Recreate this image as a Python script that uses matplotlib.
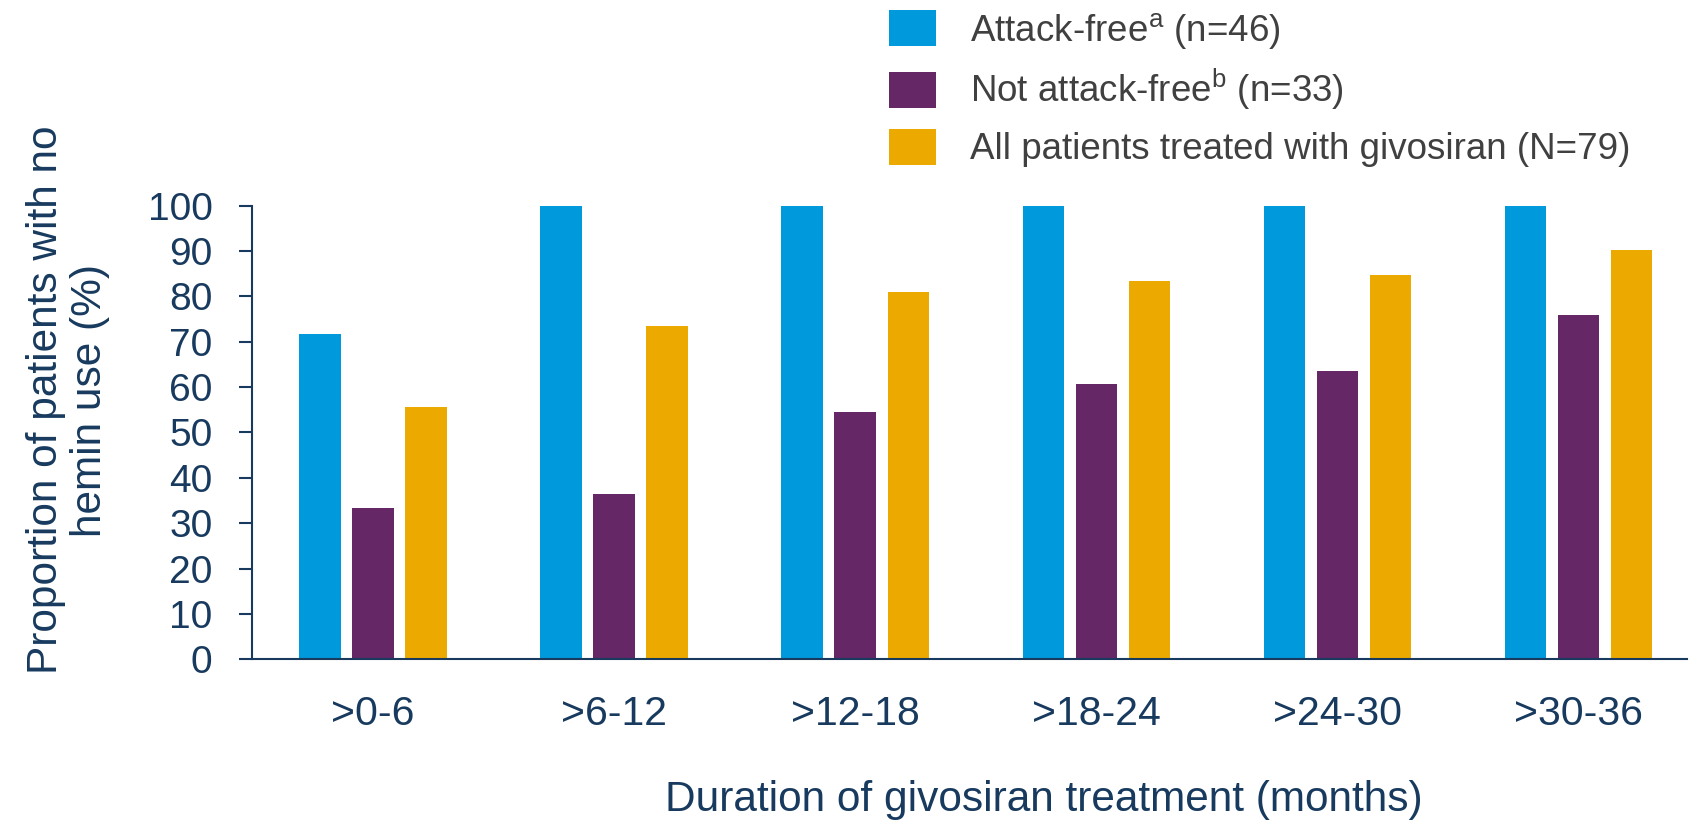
import numpy as np
import matplotlib
matplotlib.use('Agg')
import matplotlib.pyplot as plt
from matplotlib.patches import Patch

plt.rcParams['font.family'] = ['Liberation Sans', 'DejaVu Sans']
plt.rcParams['mathtext.fontset'] = 'custom'
plt.rcParams['mathtext.rm'] = 'Liberation Sans'
plt.rcParams['mathtext.it'] = 'Liberation Sans'

# 数据
categories = ['>0-6', '>6-12', '>12-18', '>18-24', '>24-30', '>30-36']
attack_free = [71.7, 100, 100, 100, 100, 100]
not_attack_free = [33.3, 36.4, 54.5, 60.6, 63.6, 75.8]
all_patients = [55.7, 73.4, 81.0, 83.5, 84.8, 90.2]
series_labels = ['Attack-free$^{\\mathrm{a}}$ (n=46)',
                 'Not attack-free$^{\\mathrm{b}}$ (n=33)',
                 'All patients treated with givosiran (N=79)']
colors = ['#0099DB', '#662766', '#ECAA00']
navy = '#173A5E'

fig = plt.figure(figsize=(16.9, 8.22), dpi=100)
ax = fig.add_axes([252 / 1690, 1 - 659.3 / 822, 1435 / 1690, 453.6 / 822])

x = np.arange(len(categories))
w = 0.172
step = 0.22
for i, (vals, c) in enumerate(zip([attack_free, not_attack_free, all_patients], colors)):
    ax.bar(x + (i - 1) * step, vals, width=w, color=c, linewidth=0)

ax.set_xlim(-0.502, 5.45)
ax.set_ylim(0, 100)
ax.set_yticks(np.arange(0, 101, 10))
ax.set_xticks(x)
ax.set_xticklabels(categories)

for s in ['top', 'right']:
    ax.spines[s].set_visible(False)
for s in ['left', 'bottom']:
    ax.spines[s].set_color(navy)
    ax.spines[s].set_linewidth(1.5)

ax.tick_params(axis='y', length=9.5, width=1.5, color=navy, pad=19,
               labelsize=28, labelcolor=navy)
ax.tick_params(axis='x', length=0, pad=26, labelsize=29.5, labelcolor=navy)

fig.text(68 / 1690, 1 - 400 / 822, 'Proportion of patients with no\nhemin use (%)',
         rotation=90, ha='center', va='center', multialignment='center',
         fontsize=30.5, color=navy, linespacing=1.12)
fig.text(1044 / 1690, 1 - 811 / 822, 'Duration of givosiran treatment (months)',
         ha='center', va='baseline', fontsize=30.5, color=navy)

handles = [Patch(facecolor=c, edgecolor='none') for c in colors]
fig.legend(handles, series_labels, loc='upper left',
           bbox_to_anchor=(889 / 1690, 1 - 10 / 822), frameon=False,
           fontsize=26.5, labelcolor='#404040', handlelength=1.28, handleheight=1.14,
           handletextpad=0.92, labelspacing=0.45, borderpad=0, borderaxespad=0)

fig.savefig('out.png', dpi=100)
